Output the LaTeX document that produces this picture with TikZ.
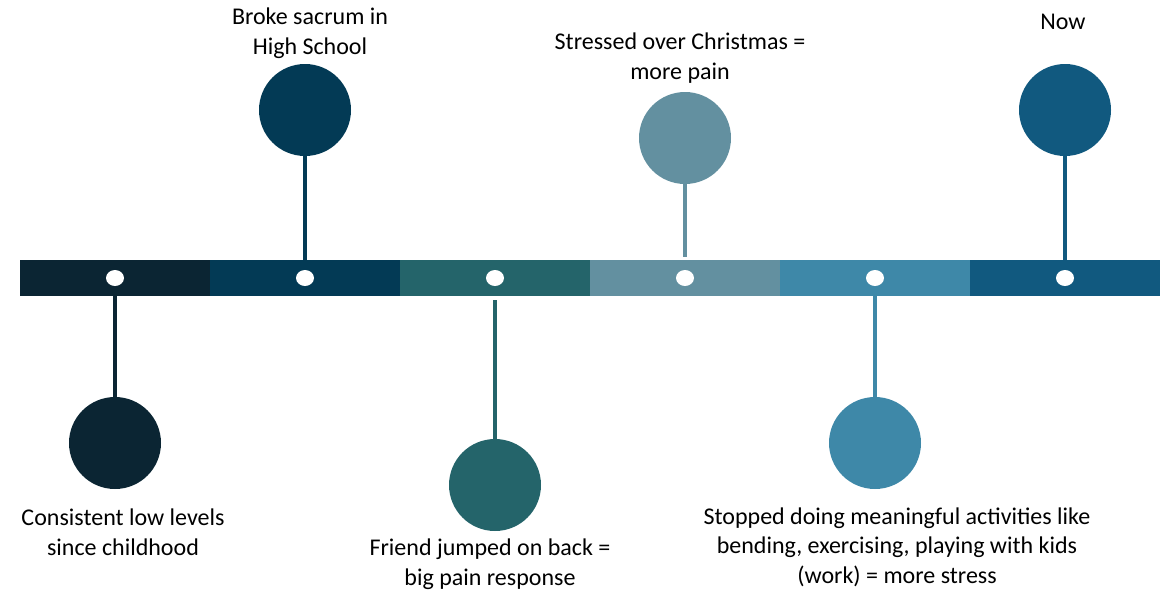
\documentclass[tikz,border=0pt]{standalone}
\usepackage{fontspec}
\setmainfont{Carlito}
\usetikzlibrary{positioning, shapes.geometric}
\definecolor{tone1}{HTML}{0B2533}
\definecolor{tone2}{HTML}{033A55}
\definecolor{tone3}{HTML}{24646A}
\definecolor{tone4}{HTML}{6390A0}
\definecolor{tone5}{HTML}{3E88A8}
\definecolor{tone6}{HTML}{11597F}

\begin{document}
\begin{tikzpicture}[x=1pt,y=-1pt,node distance=190pt,
    font=\fontsize{24}{29.5}\selectfont,
    seg/.style={rectangle,minimum width=190.5pt,minimum height=36pt,inner sep=0pt},
    dot/.style={ellipse,fill=white,minimum width=18pt,minimum height=16pt,inner sep=0pt},
    ball/.style={circle,minimum size=92pt,inner sep=0pt},
    stem/.style={line width=4pt},
    lbl/.style={align=center,inner sep=0pt}]
                \useasboundingbox (0,0) rectangle (1170,590);

                % the bar
                \node[seg, fill=tone1] (s1) at (115,278) {};
                \node[seg, fill=tone2] (s2) [right of = s1] {};
                \node[seg, fill=tone3] (s3) [right of = s2] {};
                \node[seg, fill=tone4] (s4) [right of = s3] {};
                \node[seg, fill=tone5] (s5) [right of = s4] {};
                \node[seg, fill=tone6] (s6) [right of = s5] {};
                \foreach \i in {1,...,6}
                    \node[dot] (d\i) at (s\i) {};

                % the events
                \node[ball, fill=tone1] (c1) at (115,443) {};
                \node[ball, fill=tone2] (c2) at (305,110) {};
                \node[ball, fill=tone3] (c3) at (495,485) {};
                \node[ball, fill=tone4] (c4) at (685,138) {};
                \node[ball, fill=tone5] (c5) at (875,443) {};
                \node[ball, fill=tone6] (c6) at (1065,110) {};

                \draw[stem, tone1] (s1.south) -- (c1);
                \draw[stem, tone2] (c2) -- (s2.north);
                \draw[stem, tone3, shorten <=4pt] (s3.south) -- (c3);
                \draw[stem, tone4, shorten >=3pt] (c4) -- (s4.north);
                \draw[stem, tone5] (s5.south) -- (c5);
                \draw[stem, tone6] (c6) -- (s6.north);

                % the labels
                \node[lbl] (l1) at (123,532) {Consistent low levels\\since childhood};
                \node[lbl] (l2) at (310,33) {Broke sacrum in\\High School};
                \node[lbl] (l3) at (490,564) {Friend jumped on back =\\big pain response};
                \node[lbl] (l4) at (680,58) {Stressed over Christmas =\\more pain};
                \node[lbl] (l5) at (897,547) {Stopped doing meaningful activities like\\bending, exercising, playing with kids\\(work) = more stress};
                \node[lbl] (l6) at (1063,22) {Now};
            \end{tikzpicture}
\end{document}
